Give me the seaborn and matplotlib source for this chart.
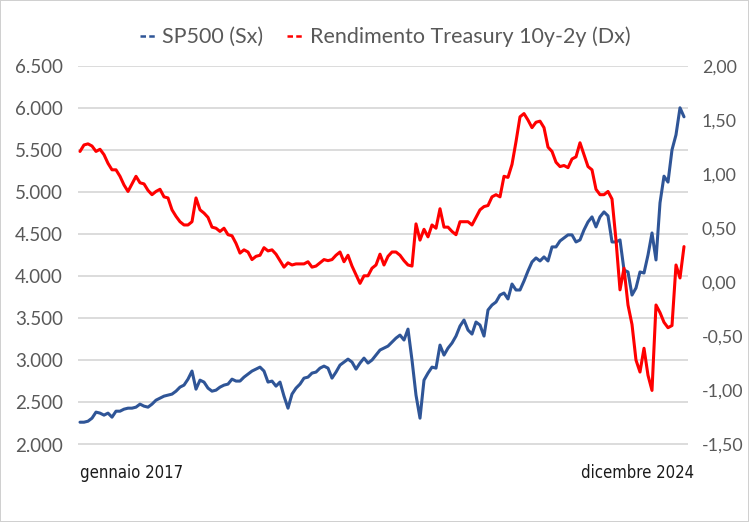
import matplotlib
matplotlib.use("Agg")
import matplotlib.pyplot as plt
import matplotlib.ticker as mticker
import matplotlib.transforms as mtrans
from matplotlib.lines import Line2D
import seaborn as sns
import pandas as pd

# ---- data ----
sp500 = [2265, 2265, 2277, 2313, 2385, 2373, 2349, 2373, 2325, 2396,
         2396, 2420, 2432, 2432, 2444, 2480, 2456, 2444, 2480, 2527,
         2551, 2575, 2587, 2599, 2634, 2682, 2706, 2777, 2873, 2658,
         2765, 2742, 2670, 2634, 2646, 2682, 2706, 2718, 2777, 2754,
         2754, 2801, 2837, 2873, 2896, 2920, 2873, 2742, 2754, 2694,
         2742, 2575, 2432, 2599, 2670, 2718, 2789, 2801, 2849, 2861,
         2908, 2932, 2908, 2789, 2861, 2944, 2980, 3015, 2980, 2896,
         2968, 3027, 2968, 3004, 3063, 3123, 3146, 3170, 3218, 3265,
         3301, 3242, 3372, 3004, 2587, 2313, 2765, 2849, 2920, 2908,
         3182, 3063, 3146, 3206, 3289, 3408, 3480, 3361, 3313, 3456,
         3420, 3289, 3599, 3658, 3694, 3777, 3801, 3730, 3908, 3837,
         3837, 3944, 4063, 4170, 4218, 4182, 4230, 4182, 4349, 4349,
         4420, 4456, 4492, 4492, 4408, 4432, 4551, 4646, 4706, 4587,
         4706, 4765, 4718, 4408, 4408, 4432, 4075, 4051, 3777, 3861,
         4051, 4039, 4253, 4515, 4194, 4873, 5190, 5120, 5503, 5682,
         6003, 5896]

spread_10y2y = [1.21, 1.27, 1.28, 1.26, 1.21, 1.23, 1.18, 1.10, 1.04, 1.04,
                0.98, 0.90, 0.84, 0.91, 0.98, 0.92, 0.91, 0.85, 0.81, 0.84,
                0.86, 0.79, 0.78, 0.67, 0.61, 0.56, 0.53, 0.53, 0.56, 0.78,
                0.67, 0.64, 0.60, 0.51, 0.50, 0.47, 0.50, 0.44, 0.43, 0.36,
                0.27, 0.30, 0.28, 0.21, 0.24, 0.25, 0.32, 0.29, 0.30, 0.26,
                0.20, 0.14, 0.18, 0.16, 0.17, 0.17, 0.17, 0.19, 0.14, 0.15,
                0.18, 0.21, 0.20, 0.21, 0.25, 0.28, 0.19, 0.25, 0.15, 0.07,
                -0.01, 0.06, 0.06, 0.13, 0.16, 0.26, 0.16, 0.24, 0.28, 0.28,
                0.25, 0.20, 0.16, 0.15, 0.54, 0.39, 0.49, 0.42, 0.53, 0.50,
                0.68, 0.51, 0.51, 0.47, 0.44, 0.56, 0.56, 0.56, 0.53, 0.60,
                0.67, 0.70, 0.71, 0.79, 0.81, 0.79, 0.98, 0.97, 1.09, 1.30,
                1.53, 1.56, 1.50, 1.43, 1.48, 1.49, 1.43, 1.25, 1.21, 1.11,
                1.07, 1.08, 1.06, 1.14, 1.16, 1.29, 1.18, 1.07, 1.04, 0.86,
                0.81, 0.81, 0.84, 0.77, 0.39, -0.07, 0.13, -0.21, -0.39, -0.72,
                -0.83, -0.61, -0.86, -1.00, -0.21, -0.28, -0.37, -0.42, -0.40, 0.16,
                0.04, 0.33]

x_labels = ["gennaio 2017", "dicembre 2024"]
series_names = ["SP500 (Sx)", "Rendimento Treasury 10y-2y (Dx)"]
left_ticks = [2000, 2500, 3000, 3500, 4000, 4500, 5000, 5500, 6000, 6500]
right_ticks = [-1.5, -1.0, -0.5, 0.0, 0.5, 1.0, 1.5, 2.0]

df = pd.DataFrame({"obs": range(len(sp500)), "sp500": sp500, "spread": spread_10y2y})

# ---- style ----
sns.set_theme(style="white")
plt.rcParams["font.family"] = ["Lato", "DejaVu Sans"]

BLUE = "#2f5597"
RED = "#ff0000"
GRID = "#d9d9d9"
TXT = "#595959"

fig = plt.figure(figsize=(7.49, 5.22), dpi=100)
fig.patch.set_facecolor("white")
fig.patch.set_edgecolor("#d0d0d0")
fig.patch.set_linewidth(1.2)
ax = fig.add_axes([78 / 749, 1 - 444.5 / 522, (688 - 78) / 749, (444.5 - 66) / 522])
ax2 = ax.twinx()

sns.lineplot(data=df, x="obs", y="sp500", ax=ax, color=BLUE, linewidth=2.2)
sns.lineplot(data=df, x="obs", y="spread", ax=ax2, color=RED, linewidth=2.2)

ax.set_ylim(2000, 6500)
ax.set_yticks(left_ticks)
ax.yaxis.set_major_formatter(mticker.FuncFormatter(lambda v, p: f"{int(v):,}".replace(",", ".")))
ax2.set_ylim(-1.5, 2.0)
ax2.set_yticks(right_ticks)
ax2.yaxis.set_major_formatter(mticker.FuncFormatter(lambda v, p: f"{v:.2f}".replace(".", ",")))

ax.set_xlim(-0.5, len(sp500) + 0.0)
ax.grid(axis="y", color=GRID, linewidth=1.3)
ax.set_axisbelow(True)
for a in (ax, ax2):
    for s in a.spines.values():
        s.set_visible(False)
    a.set_xlabel("")
    a.set_ylabel("")
ax.tick_params(axis="y", length=0, pad=11, labelsize=13.5, labelcolor=TXT)
ax2.tick_params(axis="y", length=0, pad=10, labelsize=12.8, labelcolor=TXT)

ax.set_xticks([0, len(sp500) - 1])
ax.set_xticklabels(x_labels)
ax.tick_params(axis="x", length=0, pad=14, labelsize=12, labelcolor="#1a1a1a")
for lbl in ax.get_xticklabels():
    lbl.set_family(["DejaVu Sans"])
    lbl.set_fontstretch("condensed")
xl = ax.get_xticklabels()
xl[0].set_horizontalalignment("left")
xl[1].set_horizontalalignment("right")
xl[1].set_transform(xl[1].get_transform() + mtrans.ScaledTranslation(10 / 100, 0, fig.dpi_scale_trans))

handles = [Line2D([0], [0], color=BLUE, linewidth=1.8, linestyle=(0, (2.2, 1.3))),
           Line2D([0], [0], color=RED, linewidth=1.8, linestyle=(0, (2.2, 1.3)))]
fig.legend(handles, series_names, loc="center", bbox_to_anchor=(0.514, 0.929), ncol=2,
           frameon=False, fontsize=15.5, labelcolor=TXT, handlelength=0.75, handletextpad=0.3,
           columnspacing=1.1)

fig.savefig("out.png", dpi=100, facecolor=fig.get_facecolor(), edgecolor=fig.get_edgecolor())
